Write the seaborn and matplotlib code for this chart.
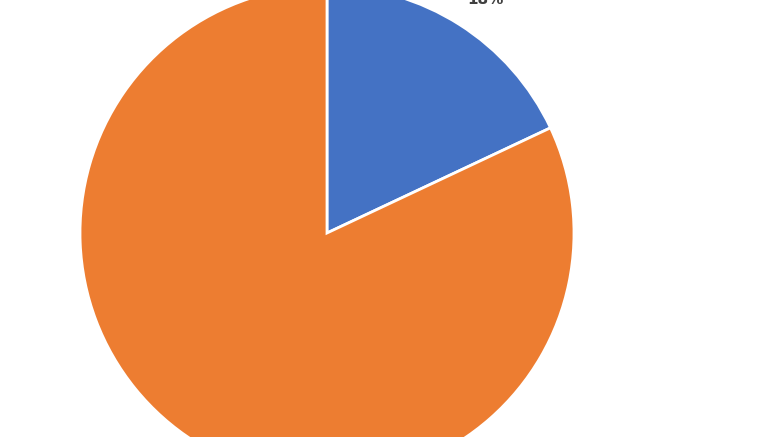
import matplotlib
matplotlib.use('Agg')
import matplotlib.pyplot as plt
import seaborn as sns

# data
categories = ['A', 'B']
shares = [18, 82]
colors = ['#4472C4', '#ED7D31']

sns.set_theme(style='white')
plt.rcParams['font.family'] = ['DejaVu Sans']

fig = plt.figure(figsize=(7.77, 4.37), dpi=100)
ax = fig.add_axes([0, 0, 1, 1])

# pie radius ~247 px, centre at (327, 233) from top-left
r_px = 247
cx, cy = 327, 437 - 233
wedges, texts, autotexts = ax.pie(
    shares, colors=colors, startangle=90, counterclock=False,
    radius=1, autopct='%1.0f%%', pctdistance=1.12,
    wedgeprops=dict(edgecolor='white', linewidth=2),
    textprops=dict(fontsize=11, fontweight='bold', color='#404040'),
)
autotexts[1].set_visible(False)
# nudge label to the right a little, as in the original
x, y = autotexts[0].get_position()
autotexts[0].set_position((x + 0.04, y))

ax.set_xlim(-cx / r_px, (777 - cx) / r_px)
ax.set_ylim(-cy / r_px, (437 - cy) / r_px)
ax.set_aspect('auto')
ax.axis('off')

fig.savefig('out.png', dpi=100)
plt.close()
